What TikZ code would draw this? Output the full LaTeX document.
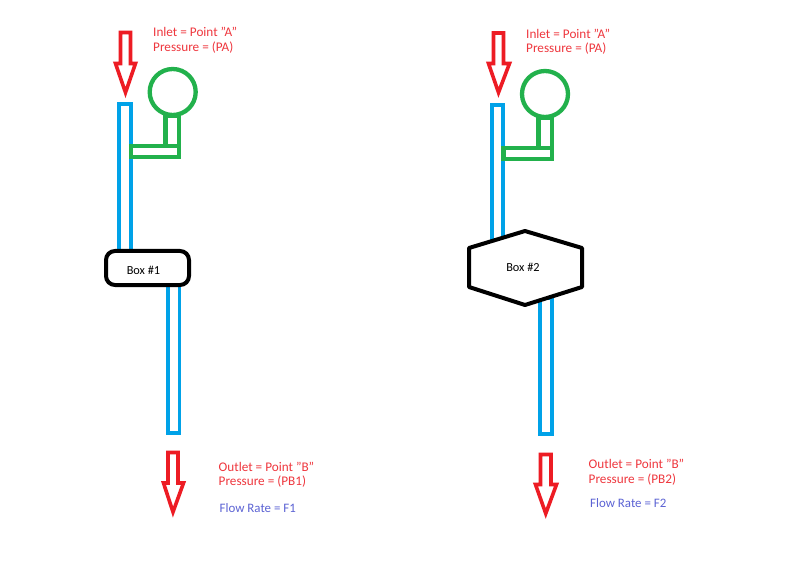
\documentclass[tikz,border=0pt]{standalone}
\usepackage{fontspec}
\setmainfont{Carlito}
\definecolor{flowred}{HTML}{ED1C24}
\definecolor{pipeblue}{HTML}{00A2E8}
\definecolor{gaugegreen}{HTML}{22B14C}
\definecolor{noteblue}{HTML}{3F48CC}
\tikzset{
  x=1pt,y=-1pt,
  redarrow/.style={draw=flowred,line width=3.6pt,line join=miter,fill=white},
  pipe/.style={draw=pipeblue,line width=3.8pt,fill=white},
  gauge/.style={draw=gaugegreen,line width=4.3pt},
  boxline/.style={draw=black,line width=4pt,fill=white,line join=round},
  note/.style={anchor=west,inner sep=0pt,font=\fontsize{13.2}{15}\selectfont},
  rednote/.style={note,text=flowred!88!white},
  bluenote/.style={note,text=noteblue!85!white,font=\fontsize{12.9}{15}\selectfont},
  boxlabel/.style={inner sep=0pt,font=\fontsize{12.3}{14}\selectfont}
}
\newcommand{\flowarrow}[6]{% xl xr top wingy wingl wingr
  \draw[redarrow] (#1,#3) -- (#2,#3) -- (#2,#4) -- (#6,#4) -- ({(#1+#2)/2},#4+29) -- (#5,#4) -- (#1,#4) -- cycle;
}
\begin{document}
\begin{tikzpicture}
\useasboundingbox (0,0) rectangle (800,561);
\fill[white] (0,0) rectangle (800,561);
% left assembly
\flowarrow{120.5}{130.5}{32.5}{63.5}{115.5}{135.5}
\draw[pipe] (119,104) rectangle (131,252);
\draw[pipe] (168,284) rectangle (179.5,433);
\draw[gauge] (172.7,92) circle (23);
\draw[gauge] (165.5,116) rectangle (179,146);
\draw[gauge] (131,146) rectangle (179,157);
\draw[boxline,rounded corners=9pt] (106,251) rectangle (189,285);
\node[boxlabel] (box1) at (143.5,270) {Box \#1};
\flowarrow{168}{178}{452.5}{483}{163.5}{183.5}
\node[rednote] (inleta) at (153,32.2) {Inlet = Point "A"};
\node[rednote] (pressa) at (153,47.7) {Pressure = (PA)};
\node[rednote] (outa) at (218.5,466.5) {Outlet = Point "B"};
\node[rednote] (pressb) at (218.5,482) {Pressure = (PB1)};
\node[bluenote] (flowa) at (219.5,508) {Flow Rate = F1};
% right assembly
\flowarrow{493.5}{503.5}{33}{63.5}{488.5}{509.5}
\draw[pipe] (492,105) rectangle (503,245);
\draw[pipe] (540,298) rectangle (552,434);
\draw[gauge] (545,94) circle (23);
\draw[gauge] (538.5,118) rectangle (552,148);
\draw[gauge] (503.5,148) rectangle (552,159);
\draw[boxline] (525,231) -- (582,248) -- (582,287) -- (525,305) -- (469,287) -- (469,248) -- cycle;
\node[boxlabel] (box2) at (523,267) {Box \#2};
\flowarrow{540.5}{551}{454.5}{484.5}{535.5}{556.5}
\node[rednote] (inletb) at (526,33.5) {Inlet = Point "A"};
\node[rednote] (pressc) at (526,49) {Pressure = (PA)};
\node[rednote] (outb) at (588.5,464) {Outlet = Point "B"};
\node[rednote] (pressd) at (588.5,479.5) {Pressure = (PB2)};
\node[bluenote] (flowb) at (590,503.5) {Flow Rate = F2};
\end{tikzpicture}
\end{document}
